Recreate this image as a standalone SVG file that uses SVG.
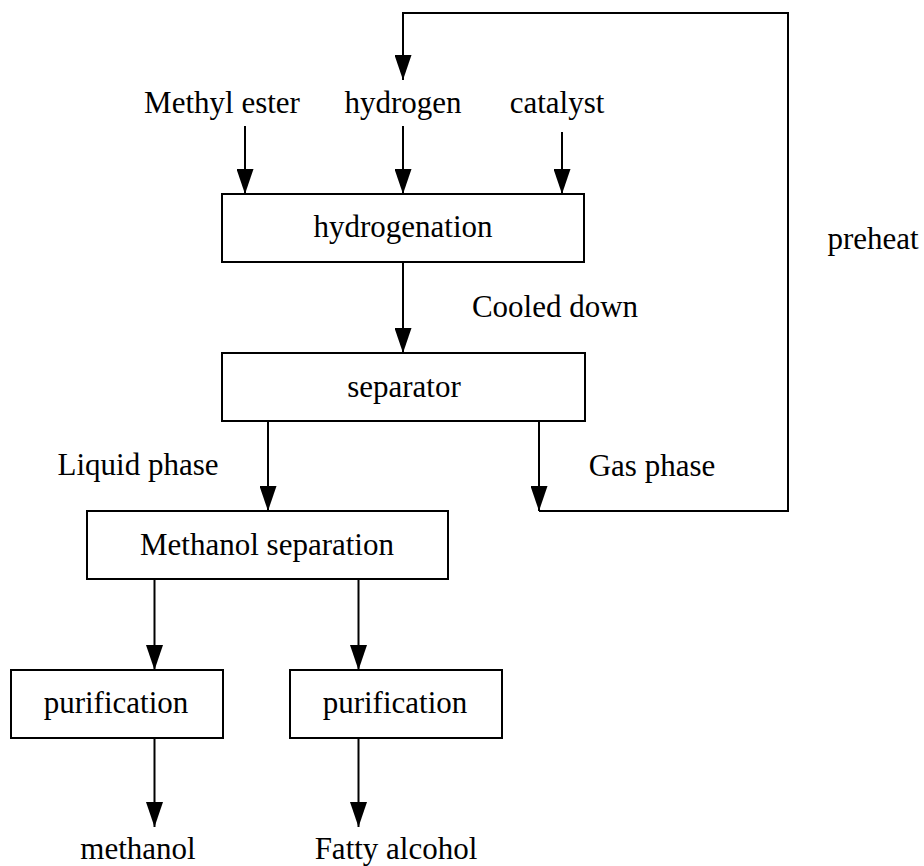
<svg xmlns="http://www.w3.org/2000/svg" width="924" height="866" viewBox="0 0 924 866">
  <style>
    .box { fill: #ffffff; stroke: #000000; stroke-width: 2; }
    .wire { fill: none; stroke: #000000; stroke-width: 2; }
    .lbl { font-family: "Liberation Serif", "Times New Roman", serif; font-size: 31px; fill: #000000; text-anchor: middle; }
  </style>
  <defs>
    <marker id="arrow" viewBox="0 0 25 17" refX="25" refY="8.5" markerWidth="25" markerHeight="17" markerUnits="userSpaceOnUse" orient="auto">
      <path d="M0,0 L25,8.5 L0,17 Z" fill="#000000"/>
    </marker>
  </defs>
  <rect width="924" height="866" fill="#ffffff"/>

  <!-- connectors -->
  <g id="connectors">
    <line class="wire" x1="245" y1="126" x2="245" y2="194" marker-end="url(#arrow)"/>
    <line class="wire" x1="403" y1="126" x2="403" y2="194" marker-end="url(#arrow)"/>
    <line class="wire" x1="562" y1="132" x2="562" y2="194" marker-end="url(#arrow)"/>
    <line class="wire" x1="403" y1="262" x2="403" y2="353" marker-end="url(#arrow)"/>
    <line class="wire" x1="268" y1="421" x2="268" y2="511" marker-end="url(#arrow)"/>
    <line class="wire" x1="539" y1="421" x2="539" y2="511" marker-end="url(#arrow)"/>
    <!-- gas recycle loop back to hydrogen feed -->
    <path class="wire" d="M539,511 L788,511 L788,13 L403,13 L403,80" marker-end="url(#arrow)"/>
    <line class="wire" x1="154.5" y1="579" x2="154.5" y2="670" marker-end="url(#arrow)"/>
    <line class="wire" x1="358.5" y1="579" x2="358.5" y2="670" marker-end="url(#arrow)"/>
    <line class="wire" x1="154.5" y1="738" x2="154.5" y2="827" marker-end="url(#arrow)"/>
    <line class="wire" x1="358.5" y1="738" x2="358.5" y2="827" marker-end="url(#arrow)"/>
  </g>

  <!-- stream labels -->
  <g id="labels">
    <text class="lbl" x="222" y="113">Methyl ester</text>
    <text class="lbl" x="403" y="113">hydrogen</text>
    <text class="lbl" x="557" y="113">catalyst</text>
    <text class="lbl" x="555" y="317">Cooled down</text>
    <text class="lbl" x="873" y="249">preheat</text>
    <text class="lbl" x="138" y="475">Liquid phase</text>
    <text class="lbl" x="652" y="476">Gas phase</text>
    <text class="lbl" x="138" y="859">methanol</text>
    <text class="lbl" x="396" y="859">Fatty alcohol</text>
  </g>

  <!-- process units -->
  <g id="hydrogenation">
    <rect class="box" x="222" y="194" width="362" height="68"/>
    <text class="lbl" x="403" y="237">hydrogenation</text>
  </g>
  <g id="separator">
    <rect class="box" x="222" y="353" width="363" height="68"/>
    <text class="lbl" x="404" y="397">separator</text>
  </g>
  <g id="methanol-separation">
    <rect class="box" x="87" y="511" width="361" height="68"/>
    <text class="lbl" x="267" y="555">Methanol separation</text>
  </g>
  <g id="purification-1">
    <rect class="box" x="11" y="670" width="212" height="68"/>
    <text class="lbl" x="116" y="713">purification</text>
  </g>
  <g id="purification-2">
    <rect class="box" x="290" y="670" width="212" height="68"/>
    <text class="lbl" x="395" y="713">purification</text>
  </g>
</svg>
